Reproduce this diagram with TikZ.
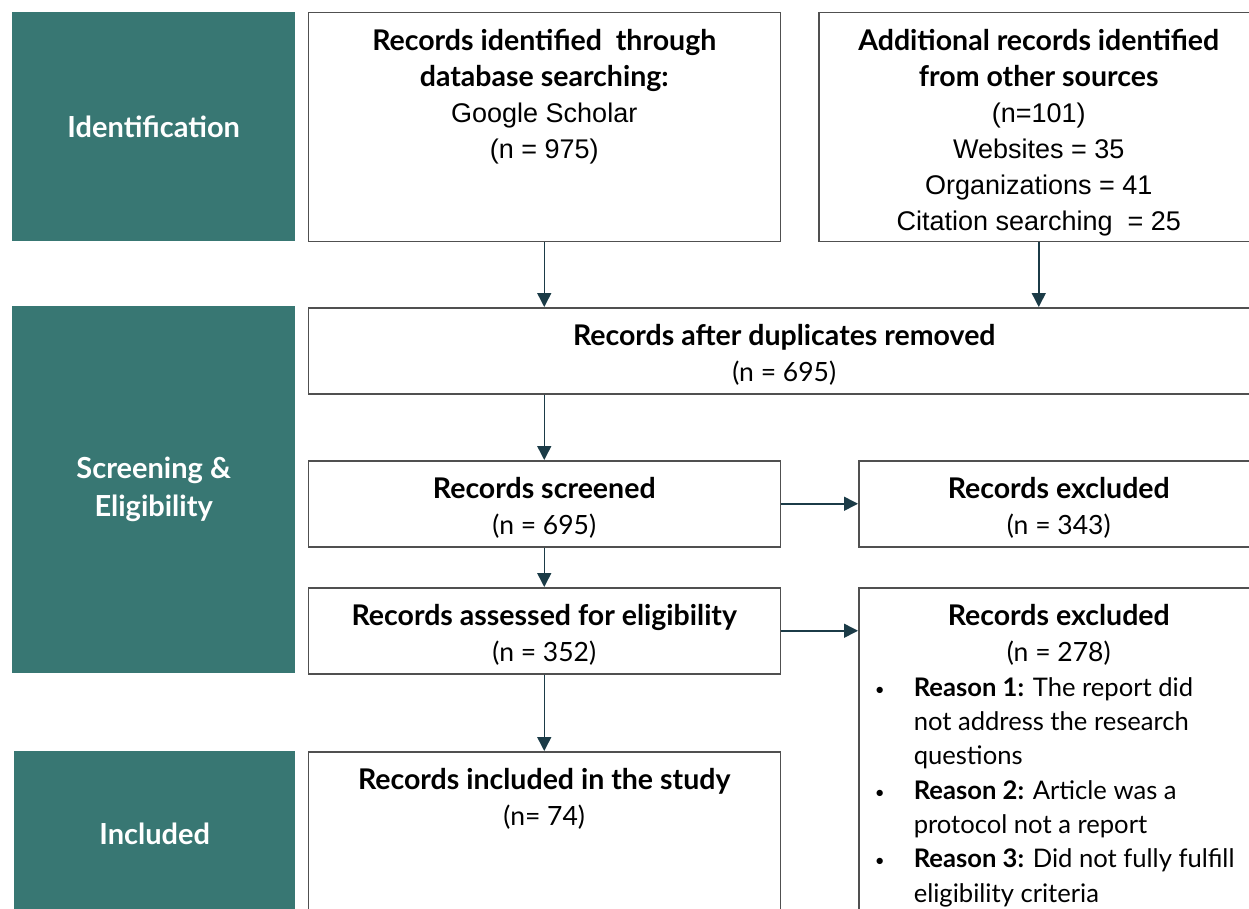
\documentclass[tikz,border=0pt]{standalone}
\usepackage{fontspec}
\setmainfont{Lato}
\newfontfamily\arialfont{Liberation Sans}
\usetikzlibrary{arrows.meta, positioning, calc}
\definecolor{stageteal}{RGB}{56,119,115}
\definecolor{boxline}{RGB}{80,80,80}
\definecolor{arrowink}{RGB}{27,59,71}
\tikzset{
  stage/.style={
    rectangle, fill=stageteal, inner sep=0pt, anchor=north west,
    text=white, align=center, font=\bfseries\fontsize{29}{38}\selectfont
  },
  recbox/.style={rectangle, draw=boxline, line width=1.5pt, inner sep=0pt, anchor=north west},
  flow/.style={-{Triangle[width=14pt,length=14pt]}, draw=arrowink, fill=arrowink, line width=1.5pt}
}
% box body: width, height, lines
\newcommand{\boxbody}[3]{\parbox[c][#2pt][t]{#1pt}{\fontsize{26.5}{36}\selectfont\centering\vspace*{17pt}#3}}
\newcommand{\arl}[1]{{\arialfont\fontsize{27}{36}\selectfont #1}}
\newcommand{\bx}[1]{{\bfseries\fontsize{28.5}{36}\selectfont #1}}
\newcommand{\bul}{\hspace*{16pt}\makebox[39pt][l]{\raisebox{1pt}{\fontsize{17}{17}\selectfont•}}}

\begin{document}
\begin{tikzpicture}[x=1pt, y=-1pt]
    \useasboundingbox (0,0) rectangle (1249,909);
    \clip (0,0) rectangle (1249,909);
    % stages
    \node[stage, minimum width=283pt, minimum height=229pt] (ident) at (12,12) {Identification};
    \node[stage, minimum width=283pt, minimum height=367pt] (screen) at (12,306) {Screening \&\\Eligibility};
    \node[stage, minimum width=281pt, minimum height=166pt] (incl) at (14,751) {Included};
    % records
    \node[recbox] (db) at (307.5,12) {\boxbody{472}{229}{\bx{Records identified\ \ through}\\\bx{database searching:}\\\arl{Google Scholar}\\\arl{(n = 975)}}};
    \node[recbox] (other) at (818,12) {\boxbody{440}{229}{\bx{Additional records identified}\\\bx{from other sources}\\\arl{(n=101)}\\\arl{Websites = 35}\\\arl{Organizations = 41}\\\arl{Citation searching\ \ = 25}}};
    \node[recbox] (dup) at (307.5,307) {\boxbody{952}{86}{\bx{Records after duplicates removed}\\(n = 695)}};
    \node[recbox] (screened) at (307.5,460) {\boxbody{472}{86}{\bx{Records screened}\\(n = 695)}};
    \node[recbox] (excl1) at (858,460) {\boxbody{400}{86}{\bx{Records excluded}\\(n = 343)}};
    \node[recbox] (assessed) at (307.5,587) {\boxbody{472}{86}{\bx{Records assessed for eligibility}\\(n = 352)}};
    \node[recbox] (excl2) at (858,587) {\boxbody{400}{340}{\bx{Records excluded}\\(n = 278)\par
      \raggedright\fontsize{25.6}{34.3}\selectfont
      \bul\textbf{Reason 1:} The report did\\
      \hspace*{55pt}not address the research\\
      \hspace*{55pt}questions\\
      \bul\textbf{Reason 2:} Article was a\\
      \hspace*{55pt}protocol not a report\\
      \bul\textbf{Reason 3:} Did not fully fulfill\\
      \hspace*{55pt}eligibility criteria}};
    \node[recbox] (included) at (307.5,751) {\boxbody{472}{180}{\bx{Records included in the study}\\(n= 74)}};
    % connectors
    \draw[flow] (db.south) -- (db.south |- dup.north);
    \draw[flow] (other.south) -- (other.south |- dup.north);
    \draw[flow] (screened.north |- dup.south) -- (screened.north);
    \draw[flow] (screened.east) -- (excl1.west);
    \draw[flow] (screened.south) -- (assessed.north);
    \draw[flow] (assessed.east) -- (excl2.west |- assessed.east);
    \draw[flow] (assessed.south) -- (included.north);
\end{tikzpicture}
\end{document}
